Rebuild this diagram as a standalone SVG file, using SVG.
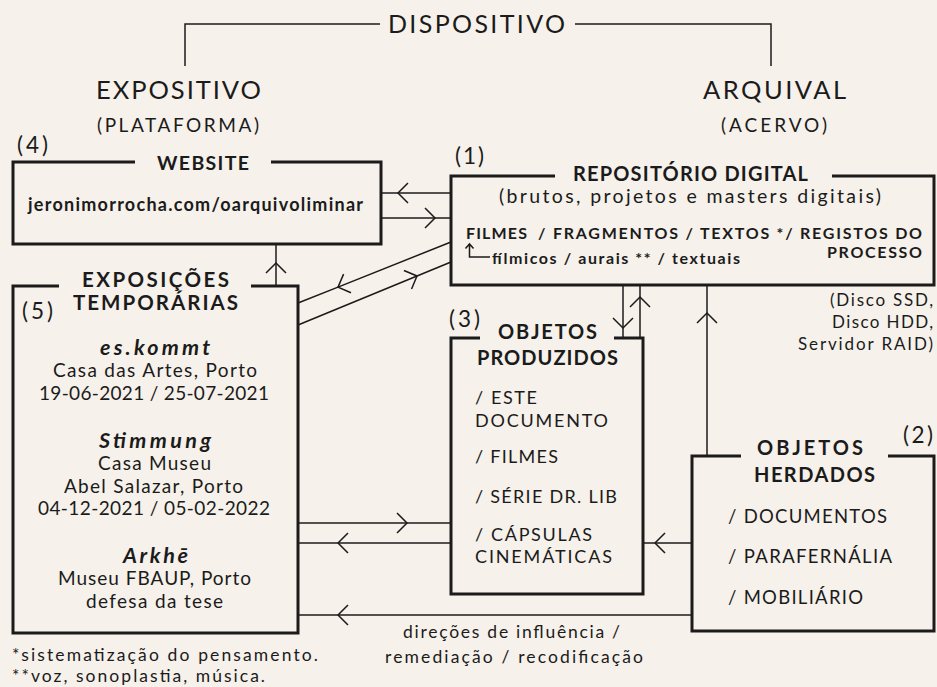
<svg xmlns="http://www.w3.org/2000/svg" width="937" height="687" viewBox="0 0 937 687">
<defs>
<style>
.t{font-family:Lato,"Noto Sans","DejaVu Sans",sans-serif;fill:#1b1b1b}
.r{font-weight:400}
.b{font-weight:700}
.bi{font-weight:700;font-style:italic}
.c{text-anchor:middle}
.e{text-anchor:end}
.box{fill:none;stroke:#1b1b1b;stroke-width:3}
.ln{fill:none;stroke:#1b1b1b;stroke-width:1.5}
.ar{fill:none;stroke:#1b1b1b;stroke-width:1.5;marker-mid:url(#chev)}
</style>
<marker id="chev" viewBox="-12 -12 24 24" markerWidth="24" markerHeight="24" markerUnits="userSpaceOnUse" refX="0" refY="0" orient="auto">
<path d="M-10,-10 L0,0 L-10,10" fill="none" stroke="#1b1b1b" stroke-width="1.5"/>
</marker>
</defs>
<rect width="937" height="687" fill="#f6f1ea"/>

<g id="header">
<path class="ln" d="M185,66 V24 H380 M575,24 H771 V66"/>
<text class="t r c" x="476.5" y="33" font-size="25" textLength="177" lengthAdjust="spacing">DISPOSITIVO</text>
<text class="t r c" x="178.5" y="99" font-size="25.5" textLength="165" lengthAdjust="spacing">EXPOSITIVO</text>
<text class="t r c" x="178" y="132" font-size="19" textLength="162" lengthAdjust="spacing">(PLATAFORMA)</text>
<text class="t r c" x="774.5" y="99" font-size="25.5" textLength="143" lengthAdjust="spacing">ARQUIVAL</text>
<text class="t r c" x="774" y="132" font-size="19" textLength="106" lengthAdjust="spacing">(ACERVO)</text>
</g>

<g id="connectors">
<path class="ar" d="M451,193 L398,193 L381,193"/>
<path class="ar" d="M381,218 L435,218 L451,218"/>
<path class="ar" d="M276,286 L276,263 L276,244"/>
<path class="ar" d="M451,242 L338,287.1 L298,303"/>
<path class="ar" d="M298,325 L417,276 L451,262"/>
<path class="ar" d="M623,285 L623,328 L623,338"/>
<path class="ar" d="M640,338 L640,297 L640,285"/>
<path class="ar" d="M707,456 L707,313 L707,285"/>
<path class="ar" d="M298,523 L407,523 L451,523"/>
<path class="ar" d="M451,543 L338,543 L298,543"/>
<path class="ar" d="M692,543 L655,543 L643,543"/>
<path class="ar" d="M692,615 L338,615 L298,615"/>
</g>

<g id="website">
<path class="box" d="M135,162 H13 V244 H381 V162 H271"/>
<text class="t r" x="17" y="153" font-size="22.5" textLength="31" lengthAdjust="spacing">(4)</text>
<text class="t b c" x="203" y="170" font-size="19.5" textLength="92" lengthAdjust="spacing">WEBSITE</text>
<text class="t b c" x="195.5" y="211" font-size="18" textLength="335" lengthAdjust="spacing">jeronimorrocha.com/oarquivoliminar</text>
</g>

<g id="repositorio">
<path class="box" d="M555,176 H451 V285 H934 V176 H832"/>
<text class="t r" x="455" y="164" font-size="22.5" textLength="29" lengthAdjust="spacing">(1)</text>
<text class="t b c" x="690.5" y="181" font-size="20" textLength="235" lengthAdjust="spacing">REPOSITÓRIO DIGITAL</text>
<text class="t r c" x="690" y="203" font-size="19.5" textLength="382" lengthAdjust="spacing">(brutos, projetos e masters digitais)</text>
<text class="t b" x="466" y="239" font-size="16" textLength="61" lengthAdjust="spacing">FILMES</text>
<text class="t b" x="538" y="239" font-size="16" textLength="384" lengthAdjust="spacing">/ FRAGMENTOS / TEXTOS */ REGISTOS DO</text>
<text class="t b e" x="922" y="258" font-size="16" textLength="95" lengthAdjust="spacing">PROCESSO</text>
<path class="ln" d="M465.5,248.5 L469.5,244 L473.5,248.5 M469.5,244 V257 H490"/>
<text class="t b" x="492" y="264" font-size="16" textLength="248" lengthAdjust="spacing">fílmicos / aurais ** / textuais</text>
<text class="t r e" x="933" y="306" font-size="17" textLength="103" lengthAdjust="spacing">(Disco SSD,</text>
<text class="t r e" x="933" y="328" font-size="17" textLength="101" lengthAdjust="spacing">Disco HDD,</text>
<text class="t r e" x="933" y="350" font-size="17" textLength="135" lengthAdjust="spacing">Servidor RAID)</text>
</g>

<g id="exposicoes">
<path class="box" d="M59,286 H13 V633 H298 V286 H251"/>
<text class="t b c" x="155.5" y="287" font-size="20.5" textLength="147" lengthAdjust="spacing">EXPOSIÇÕES</text>
<text class="t b c" x="155.5" y="310" font-size="20.5" textLength="165" lengthAdjust="spacing">TEMPORÁRIAS</text>
<text class="t r" x="22" y="319" font-size="22.5" textLength="31" lengthAdjust="spacing">(5)</text>
<text class="t bi c" x="155" y="355" font-size="21.5" textLength="110" lengthAdjust="spacing">es.kommt</text>
<text class="t r c" x="155" y="377" font-size="19" textLength="204" lengthAdjust="spacing">Casa das Artes, Porto</text>
<text class="t r c" x="154" y="400" font-size="19" textLength="230" lengthAdjust="spacing">19-06-2021 / 25-07-2021</text>
<text class="t bi c" x="155" y="448" font-size="21.5" textLength="112" lengthAdjust="spacing">Stimmung</text>
<text class="t r c" x="154.5" y="470" font-size="19" textLength="113" lengthAdjust="spacing">Casa Museu</text>
<text class="t r c" x="153.5" y="493" font-size="19" textLength="179" lengthAdjust="spacing">Abel Salazar, Porto</text>
<text class="t r c" x="154" y="515" font-size="19" textLength="232" lengthAdjust="spacing">04-12-2021 / 05-02-2022</text>
<text class="t bi c" x="155.5" y="563" font-size="21.5" textLength="65" lengthAdjust="spacing">Arkhē</text>
<text class="t r c" x="154.5" y="585" font-size="19" textLength="193" lengthAdjust="spacing">Museu FBAUP, Porto</text>
<text class="t r c" x="154.5" y="608" font-size="19" textLength="137" lengthAdjust="spacing">defesa da tese</text>
</g>

<g id="produzidos">
<path class="box" d="M480,338 H451 V594 H643 V338 H614"/>
<text class="t r" x="449" y="327" font-size="22.5" textLength="31" lengthAdjust="spacing">(3)</text>
<text class="t b c" x="547.5" y="339" font-size="20" textLength="99" lengthAdjust="spacing">OBJETOS</text>
<text class="t b c" x="547.5" y="365" font-size="20" textLength="141" lengthAdjust="spacing">PRODUZIDOS</text>
<text class="t r" x="475" y="404" font-size="18" textLength="62" lengthAdjust="spacing">/ ESTE</text>
<text class="t r" x="475" y="427" font-size="18" textLength="133" lengthAdjust="spacing">DOCUMENTO</text>
<text class="t r" x="475" y="463" font-size="18" textLength="83" lengthAdjust="spacing">/ FILMES</text>
<text class="t r" x="475" y="503" font-size="18" textLength="142" lengthAdjust="spacing">/ SÉRIE DR. LIB</text>
<text class="t r" x="475" y="541" font-size="18" textLength="117" lengthAdjust="spacing">/ CÁPSULAS</text>
<text class="t r" x="475" y="563" font-size="18" textLength="137" lengthAdjust="spacing">CINEMÁTICAS</text>
</g>

<g id="herdados">
<path class="box" d="M741,456 H692 V631 H934 V456 H888"/>
<text class="t r" x="903" y="443" font-size="22.5" textLength="30" lengthAdjust="spacing">(2)</text>
<text class="t b c" x="810" y="455" font-size="20" textLength="106" lengthAdjust="spacing">OBJETOS</text>
<text class="t b c" x="814.5" y="482" font-size="20" textLength="121" lengthAdjust="spacing">HERDADOS</text>
<text class="t r" x="728" y="523" font-size="18.5" textLength="159" lengthAdjust="spacing">/ DOCUMENTOS</text>
<text class="t r" x="728" y="563" font-size="18.5" textLength="164" lengthAdjust="spacing">/ PARAFERNÁLIA</text>
<text class="t r" x="728" y="604" font-size="18.5" textLength="135" lengthAdjust="spacing">/ MOBILIÁRIO</text>
</g>

<g id="notes">
<text class="t r c" x="511.5" y="638" font-size="17.5" textLength="217" lengthAdjust="spacing">direções de influência /</text>
<text class="t r c" x="514" y="663" font-size="17.5" textLength="258" lengthAdjust="spacing">remediação / recodificação</text>
<text class="t r" x="12" y="661" font-size="17.5" textLength="306" lengthAdjust="spacing">*sistematização do pensamento.</text>
<text class="t r" x="12" y="682" font-size="17.5" textLength="253" lengthAdjust="spacing">**voz, sonoplastia, música.</text>
</g>
</svg>
